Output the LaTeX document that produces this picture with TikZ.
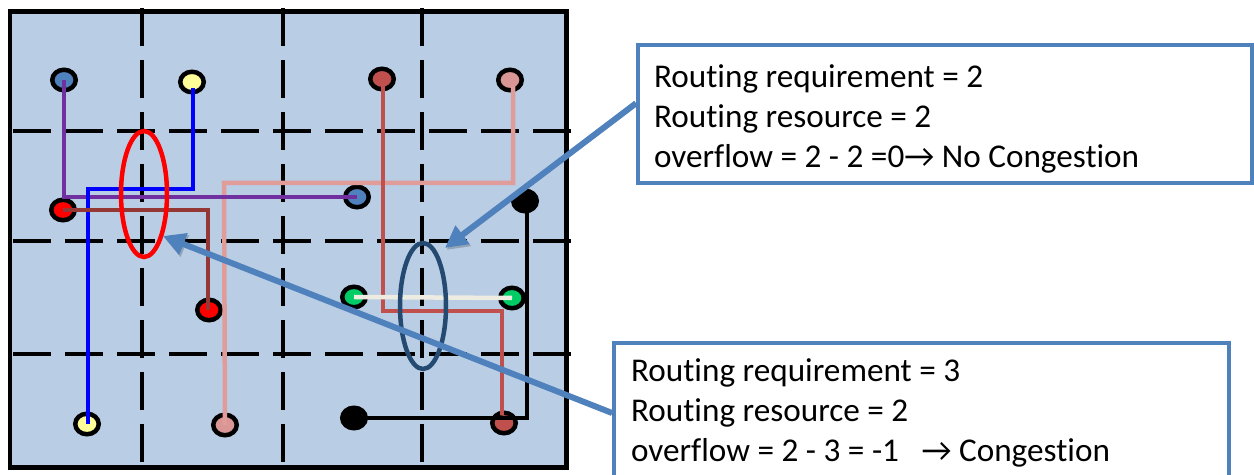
\documentclass[tikz,border=0pt]{standalone}
\usepackage{fontspec}
\setmainfont[Ligatures=NoCommon]{Carlito}
\usetikzlibrary{shapes.geometric}
\usetikzlibrary{arrows.meta}

\definecolor{cellfill}{HTML}{B9CDE5}
\definecolor{calloutblue}{HTML}{4F81BD}
\definecolor{wirepurple}{HTML}{7030A0}
\definecolor{wiremaroon}{HTML}{953735}
\definecolor{wirepink}{HTML}{E09C99}
\definecolor{wirebrick}{HTML}{C0504D}
\definecolor{wirecream}{HTML}{EEECE1}
\definecolor{pinyellow}{HTML}{FFFF99}
\definecolor{pinpink}{HTML}{D99694}
\definecolor{pingreen}{HTML}{00CC66}
\definecolor{ovalnavy}{HTML}{254A72}

\tikzset{
    pin/.style={ellipse, draw=black, line width=0.09cm, inner sep=0pt,
        minimum width=0.47cm, minimum height=0.41cm},
    gridline/.style={line width=0.08cm, dash pattern=on 0.76cm off 0.28cm},
    wire/.style={line width=0.09cm, line join=miter},
    oval/.style={ellipse, draw, line width=0.09cm, inner sep=0pt,
        minimum width=0.92cm, minimum height=2.52cm},
    callout/.style={draw=calloutblue, line width=0.08cm, fill=white, inner sep=0pt,
        align=flush left, font=\fontsize{18.9}{22.76}\selectfont},
    pointer/.style={draw=calloutblue, line width=0.12cm,
        -{Triangle[length=0.44cm,width=0.44cm]},
        preaction={draw=black, opacity=0.2, transform canvas={shift={(0.03cm,-0.04cm)}}}}
}

\begin{document}
\begin{tikzpicture}[x=0.02cm,y=-0.02cm]
    \useasboundingbox (0,0) rectangle (1254,475);

    %% routing area
    \fill[cellfill] (10,12) rectangle (566,468);

    %% grid lines
    \foreach \gx in {142,283,422}
        \draw[gridline] (\gx,8) -- (\gx,468);
    \foreach \gy in {131,241,354}
        \draw[gridline] (13,\gy) -- (571,\gy);
    \draw[line width=0.1cm] (10,12) rectangle (566,468);

    %% pins
    \node[pin, fill=calloutblue] (bluetop) at (64,80) {};
    \node[pin, fill=pinyellow] (yellowtop) at (192,82) {};
    \node[pin, fill=wirebrick] (bricktop) at (382,79) {};
    \node[pin, fill=pinpink] (pinktop) at (510,80) {};
    \node[pin, fill=red] (redleft) at (63,210) {};
    \node[pin, fill=calloutblue] (bluemid) at (357,197) {};
    \node[pin, fill=black] (blackmid) at (525,201) {};
    \node[pin, fill=red] (redmid) at (209,310) {};
    \node[pin, fill=pingreen] (greenleft) at (354,297) {};
    \node[pin, fill=pingreen] (greenright) at (512,298) {};
    \node[pin, fill=black] (blacklow) at (354,418) {};
    \node[pin, fill=wirebrick] (bricklow) at (504,423) {};
    \node[pin, fill=pinyellow] (yellowlow) at (87,424) {};
    \node[pin, fill=pinpink] (pinklow) at (225,425) {};

    %% wires
    \draw[wire, black] (blackmid.center) ++(2,0) |- (blacklow.center);
    \draw[wire, wirepink] (pinktop.center) ++(3,6) |- (224,183) -- (pinklow.center);
    \draw[wire, wirebrick] (bricktop.center) ++(1,6) -- (383,311) -| (502,415);
    \draw[wire, wirepurple] (bluetop.center) |- (bluemid.center);
    \draw[wire, blue] (yellowtop.center) ++(1,6) |- (88,189) -- (88,424);
    \draw[wire, wiremaroon] (redleft.center) -| (208,310);
    \draw[wire, wirecream] (greenleft.center) -- (greenright.center);

    %% ovals
    \node[oval, draw=red] (overfull) at (144,194) {};
    \node[oval, draw=ovalnavy] (balanced) at (423,306) {};

    %% callouts
    \node[callout, minimum width=12.28cm, minimum height=2.76cm, text width=11.64cm] (okbox) at (945,114)
        {\rule{0pt}{0.65cm}Routing requirement = 2\\Routing resource = 2\\overflow = 2 - 2 =0→ No Congestion};
    \node[callout, minimum width=12.3cm, minimum height=2.8cm, text width=11.62cm] (badbox) at (921.5,413)
        {Routing requirement = 3\\Routing resource = 2\\overflow = 2 - 3 = -1 \ \ → Congestion};

    \coordinate (oktip) at (445,248);
    \coordinate (badtip) at (163,236);
    \draw[pointer] (okbox.178.9) -- (oktip);
    \draw[pointer] (badbox.180.4) -- (badtip);
\end{tikzpicture}
\end{document}
